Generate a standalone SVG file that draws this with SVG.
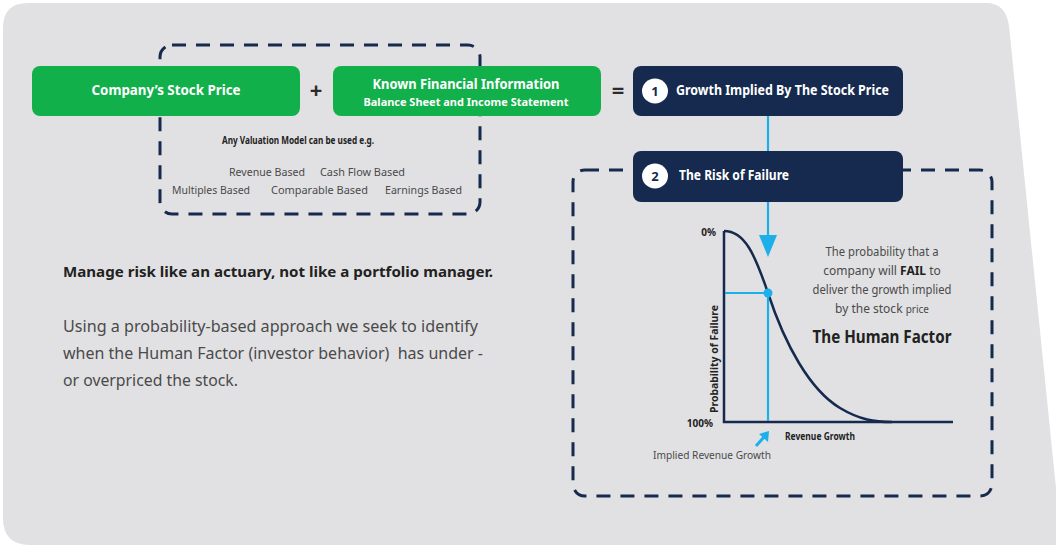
<svg xmlns="http://www.w3.org/2000/svg" width="1056" height="545" viewBox="0 0 1056 545">
<style>
text{font-family:"Noto Sans","Liberation Sans",sans-serif}
.green{fill:#12b04b}
.navy{fill:#152a4e}
.wt{fill:#ffffff;font-weight:700}
.dash{fill:none;stroke:#152a4e;stroke-width:3;stroke-dasharray:14 10;stroke-linecap:butt}
.dk{fill:#222222}
.gr{fill:#4a4a4a}
.blue{stroke:#1cb0ea;stroke-width:2.2;fill:none}
.axis{stroke:#152a4e;stroke-width:2.5;fill:none}
.op{fill:#2b2b2b;font-weight:700;font-size:22px}
</style>
<rect width="1056" height="545" fill="#ffffff"/>
<path d="M3,28 Q3,3 28,3 L986,3 Q1006,3 1009,26 L1056,488 L1056,545 L30,545 Q3,545 3,518 Z" fill="#e1e1e3"/>

<g id="valuation-box">
<rect x="160" y="45" width="320" height="169" rx="12" class="dash"/>
<text x="298" y="144" font-size="11" font-weight="700" class="dk" text-anchor="middle" textLength="152" lengthAdjust="spacingAndGlyphs">Any Valuation Model can be used e.g.</text>
<text x="229" y="176" font-size="11" class="gr" textLength="76" lengthAdjust="spacingAndGlyphs">Revenue Based</text>
<text x="320" y="176" font-size="11" class="gr" textLength="85" lengthAdjust="spacingAndGlyphs">Cash Flow Based</text>
<text x="172" y="194" font-size="11" class="gr" textLength="78" lengthAdjust="spacingAndGlyphs">Multiples Based</text>
<text x="271" y="194" font-size="11" class="gr" textLength="97" lengthAdjust="spacingAndGlyphs">Comparable Based</text>
<text x="385" y="194" font-size="11" class="gr" textLength="77" lengthAdjust="spacingAndGlyphs">Earnings Based</text>
</g>

<g id="risk-box">
<rect x="573" y="170" width="419" height="326" rx="12" class="dash"/>
</g>

<g id="stock-price">
<rect x="32" y="66" width="268" height="50" rx="8" class="green"/>
<text x="166" y="95" font-size="14" class="wt" text-anchor="middle" textLength="149" lengthAdjust="spacingAndGlyphs">Company’s Stock Price</text>
</g>

<text x="316" y="98" class="op" text-anchor="middle">+</text>

<g id="financial-info">
<rect x="333" y="66" width="268" height="50" rx="8" class="green"/>
<text x="466" y="89" font-size="14" class="wt" text-anchor="middle" font-weight="600" textLength="187" lengthAdjust="spacingAndGlyphs">Known Financial Information</text>
<text x="466" y="106" font-size="11" class="wt" text-anchor="middle" textLength="205" lengthAdjust="spacingAndGlyphs">Balance Sheet and Income Statement</text>
</g>

<text x="618" y="98" class="op" text-anchor="middle">=</text>

<g id="growth-implied">
<rect x="633" y="66" width="270" height="50" rx="8" class="navy"/>
<ellipse cx="655" cy="91" rx="13" ry="12.5" fill="#ffffff"/>
<text x="655" y="96" font-size="13" font-weight="700" fill="#152a4e" text-anchor="middle">1</text>
<text x="676" y="95" font-size="14" class="wt" textLength="213" lengthAdjust="spacingAndGlyphs">Growth Implied By The Stock Price</text>
</g>

<g id="risk-of-failure">
<rect x="633" y="151" width="270" height="51" rx="8" class="navy"/>
<ellipse cx="655" cy="176" rx="13" ry="12.5" fill="#ffffff"/>
<text x="655" y="181" font-size="13" font-weight="700" fill="#152a4e" text-anchor="middle">2</text>
<text x="679" y="180" font-size="14" class="wt" textLength="110" lengthAdjust="spacingAndGlyphs">The Risk of Failure</text>
</g>

<g id="chart">
<path d="M724,231 L724,422 L953,422" class="axis"/>
<path d="M724,231 C745,231 755,255 768,293 C785,345 810,390 840,408 C860,420 875,422 892,422" class="axis"/>
<text x="716" y="236" font-size="10" font-weight="700" class="dk" text-anchor="end">0%</text>
<text x="713" y="427" font-size="10" font-weight="700" class="dk" text-anchor="end">100%</text>
<text transform="translate(718,359) rotate(-90)" font-size="10" font-weight="700" class="dk" text-anchor="middle" textLength="108" lengthAdjust="spacingAndGlyphs">Probability of Failure</text>
<text x="785" y="440" font-size="10" font-weight="700" class="dk" textLength="70" lengthAdjust="spacingAndGlyphs">Revenue Growth</text>
<text x="653" y="459" font-size="11" class="gr" textLength="118" lengthAdjust="spacingAndGlyphs">Implied Revenue Growth</text>
<text x="882" y="256" font-size="12" class="gr" text-anchor="middle" textLength="113" lengthAdjust="spacingAndGlyphs">The probability that a</text>
<text x="882" y="275" font-size="12" class="gr" text-anchor="middle">company will <tspan font-weight="700" fill="#222">FAIL</tspan> to</text>
<text x="882" y="294" font-size="12" class="gr" text-anchor="middle" textLength="139" lengthAdjust="spacingAndGlyphs">deliver the growth implied</text>
<text x="882" y="313" font-size="12" class="gr" text-anchor="middle">by the stock <tspan font-size="10">price</tspan></text>
<text x="882" y="343" font-size="17" font-weight="700" class="dk" text-anchor="middle" textLength="139" lengthAdjust="spacingAndGlyphs">The Human Factor</text>
</g>

<g id="connectors">
<line x1="768" y1="116" x2="768" y2="151" class="blue"/>
<line x1="768" y1="202" x2="768" y2="237" class="blue"/>
<polygon points="759,235 777,235 768,257" fill="#1cb0ea"/>
<line x1="725" y1="293" x2="768" y2="293" class="blue"/>
<line x1="768" y1="293" x2="768" y2="421" class="blue"/>
<circle cx="768" cy="293" r="4.5" fill="#1cb0ea"/>
<line x1="756" y1="446" x2="764" y2="437" stroke="#1cb0ea" stroke-width="3"/>
<polygon points="769,431 768,442 759,434" fill="#1cb0ea"/>
</g>

<g id="intro-text">
<text x="63" y="277" font-size="15" font-weight="700" class="dk" textLength="430" lengthAdjust="spacingAndGlyphs">Manage risk like an actuary, not like a portfolio manager.</text>
<text x="63" y="332" font-size="16" class="gr" textLength="415" lengthAdjust="spacingAndGlyphs">Using a probability-based approach we seek to identify</text>
<text x="63" y="359" font-size="16" class="gr" xml:space="preserve" textLength="420" lengthAdjust="spacingAndGlyphs">when the Human Factor (investor behavior)  has under -</text>
<text x="63" y="386" font-size="16" class="gr" textLength="175" lengthAdjust="spacingAndGlyphs">or overpriced the stock.</text>
</g>
</svg>
